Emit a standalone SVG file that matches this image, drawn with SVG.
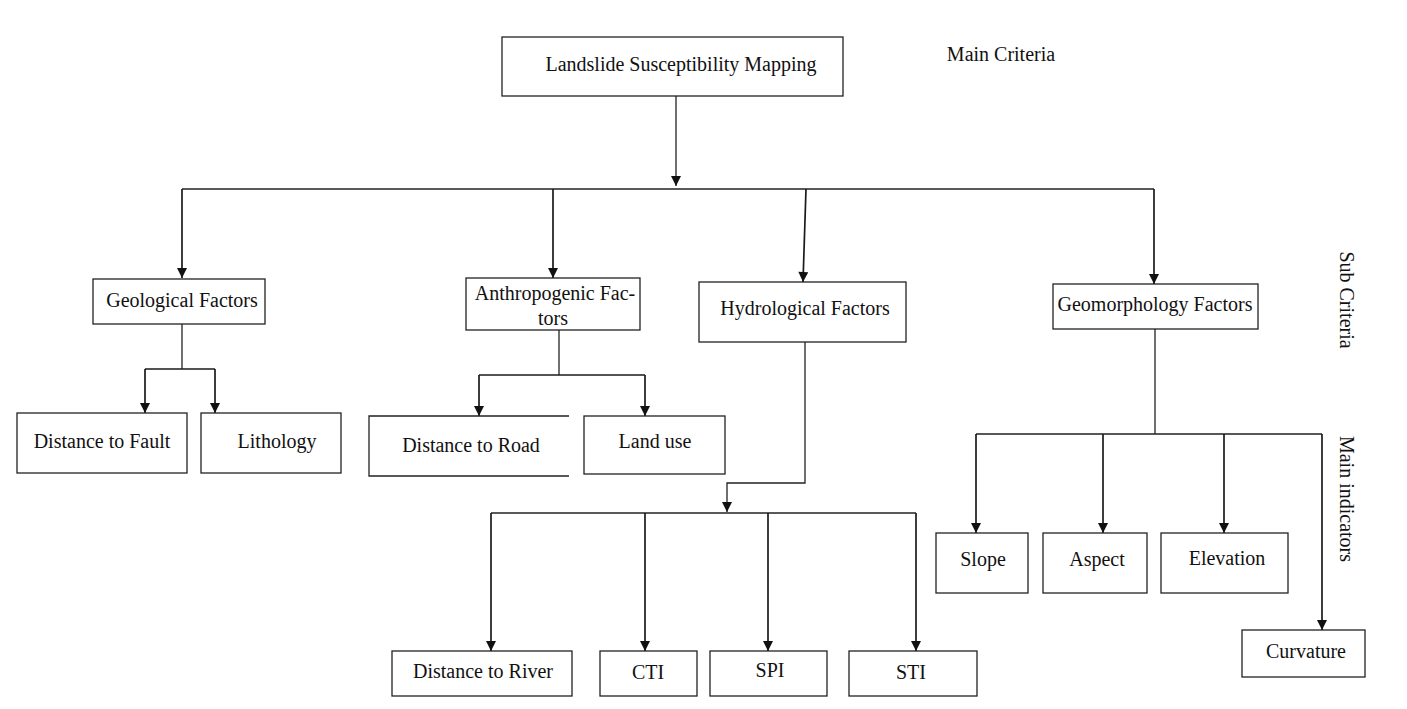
<svg xmlns="http://www.w3.org/2000/svg" width="1407" height="709" viewBox="0 0 1407 709">
<style>
.box{fill:#fff;stroke:#222;stroke-width:1.3}
.t{font-family:"Liberation Serif","Times New Roman",serif;font-size:20px;fill:#111;text-anchor:middle}
.c{fill:none;stroke:#222;stroke-width:1.3}
.a{fill:none;stroke:#1a1a1a;stroke-width:1.7}
</style>
<defs>
<marker id="ah" viewBox="0 0 10 10" refX="10" refY="5" markerWidth="11" markerHeight="10" markerUnits="userSpaceOnUse" orient="auto">
<path d="M0,0 L10,5 L0,10 z" fill="#111"/>
</marker>
</defs>
<rect width="1407" height="709" fill="#fff"/>
<g id="connectors">
<path class="c" d="M676,96 V186" marker-end="url(#ah)"/>
<path class="c" d="M182,189 H1154"/>
<path class="a" d="M182,189 V278" marker-end="url(#ah)"/>
<path class="a" d="M553,189 V278" marker-end="url(#ah)"/>
<path class="a" d="M806,189 L803,282" marker-end="url(#ah)"/>
<path class="a" d="M1154,189 V284" marker-end="url(#ah)"/>
<path class="c" d="M182,324 V369"/>
<path class="a" d="M145,369 H215"/>
<path class="a" d="M145,369 V413" marker-end="url(#ah)"/>
<path class="a" d="M215,369 V413" marker-end="url(#ah)"/>
<path class="c" d="M559,330 V375"/>
<path class="a" d="M479,375 H645"/>
<path class="a" d="M479,375 V416" marker-end="url(#ah)"/>
<path class="a" d="M645,375 V416" marker-end="url(#ah)"/>
<path class="c" d="M805,342 V483 H727 V512" marker-end="url(#ah)"/>
<path class="c" d="M491,513 H916"/>
<path class="a" d="M491,513 V651" marker-end="url(#ah)"/>
<path class="a" d="M645,513 V651" marker-end="url(#ah)"/>
<path class="a" d="M768,513 V651" marker-end="url(#ah)"/>
<path class="a" d="M916,513 V651" marker-end="url(#ah)"/>
<path class="c" d="M1155,329 V434 M976,434 H1322"/>
<path class="a" d="M976,434 V533" marker-end="url(#ah)"/>
<path class="a" d="M1103,434 V533" marker-end="url(#ah)"/>
<path class="a" d="M1224,434 V533" marker-end="url(#ah)"/>
<path class="a" d="M1322,434 V630" marker-end="url(#ah)"/>
</g>
<g id="lsm"><rect class="box" x="502" y="37" width="341" height="59"/><text class="t" x="681" y="71">Landslide Susceptibility Mapping</text></g>
<g id="main-criteria"><text class="t" x="1001" y="61">Main Criteria</text></g>
<g id="sub-criteria"><text class="t" transform="translate(1340,300) rotate(90)" x="0" y="0">Sub Criteria</text></g>
<g id="main-indicators"><text class="t" transform="translate(1340,499) rotate(90)" x="0" y="0">Main indicators</text></g>
<g id="geological"><rect class="box" x="93" y="279" width="172" height="45"/><text class="t" x="182" y="307">Geological Factors</text></g>
<g id="anthropogenic"><rect class="box" x="466" y="278" width="174" height="52"/><text class="t" x="555" y="300">Anthropogenic Fac-</text><text class="t" x="553" y="325">tors</text></g>
<g id="hydrological"><rect class="box" x="699" y="282" width="207" height="60"/><text class="t" x="805" y="315">Hydrological Factors</text></g>
<g id="geomorphology"><rect class="box" x="1053" y="284" width="205" height="45"/><text class="t" x="1155" y="311">Geomorphology Factors</text></g>
<g id="fault"><rect class="box" x="17" y="413" width="170" height="60"/><text class="t" x="102" y="448">Distance to Fault</text></g>
<g id="lithology"><rect class="box" x="201" y="413" width="140" height="60"/><text class="t" x="277" y="448">Lithology</text></g>
<g id="road"><path class="c" d="M569,416 H369 V476 H569"/><text class="t" x="471" y="452">Distance to Road</text></g>
<g id="landuse"><rect class="box" x="584" y="416" width="141" height="58"/><text class="t" x="655" y="448">Land use</text></g>
<g id="river"><rect class="box" x="392" y="651" width="180" height="45"/><text class="t" x="483" y="678">Distance to River</text></g>
<g id="cti"><rect class="box" x="600" y="651" width="97" height="45"/><text class="t" x="648" y="679">CTI</text></g>
<g id="spi"><rect class="box" x="710" y="651" width="117" height="45"/><text class="t" x="770" y="677">SPI</text></g>
<g id="sti"><rect class="box" x="849" y="651" width="128" height="45"/><text class="t" x="911" y="679">STI</text></g>
<g id="slope"><rect class="box" x="936" y="533" width="92" height="60"/><text class="t" x="983" y="566">Slope</text></g>
<g id="aspect"><rect class="box" x="1043" y="533" width="104" height="60"/><text class="t" x="1097" y="566">Aspect</text></g>
<g id="elevation"><rect class="box" x="1161" y="533" width="127" height="60"/><text class="t" x="1227" y="565">Elevation</text></g>
<g id="curvature"><rect class="box" x="1242" y="630" width="123" height="47"/><text class="t" x="1306" y="658">Curvature</text></g>
</svg>
